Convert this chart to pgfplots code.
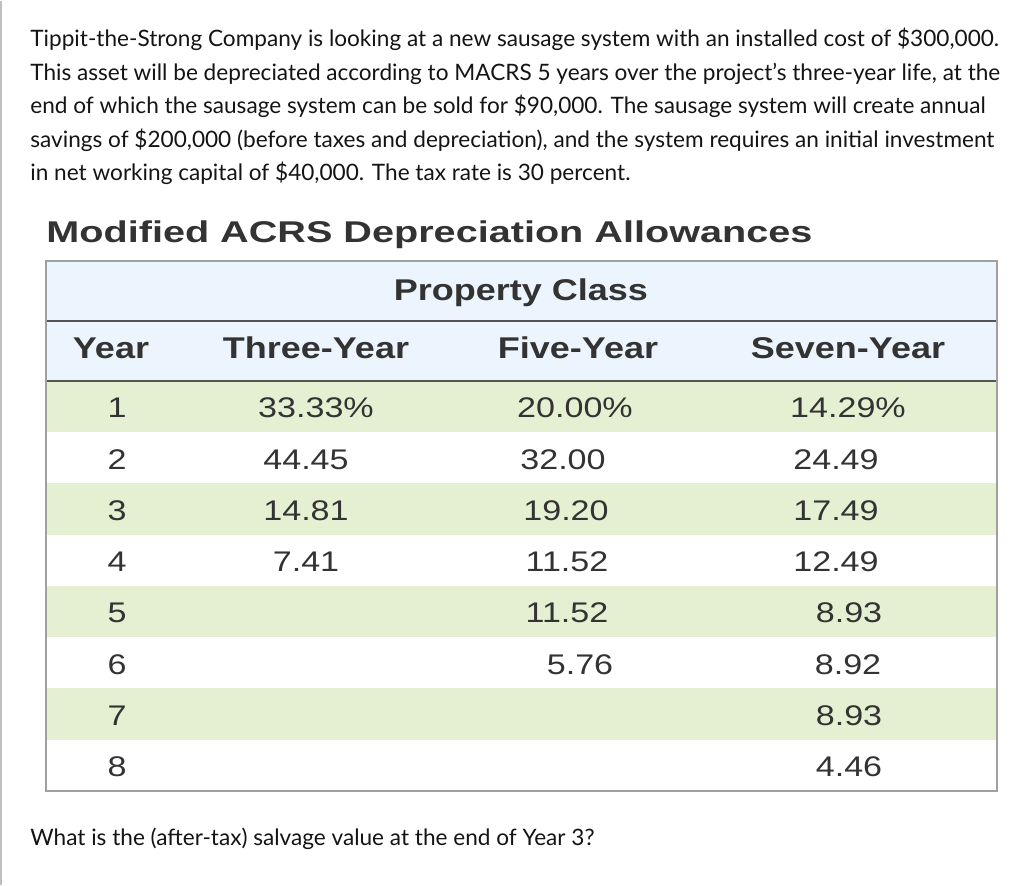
\documentclass[border=0pt]{standalone}
\usepackage{pgfplots}
\pgfplotsset{compat=1.18}
\usepackage{pgfplotstable}
\usepackage{graphicx}
\usepackage{fontspec}
\setmainfont{Lato}
\newfontfamily\tabfont[FakeStretch=1.2]{Liberation Sans}
\newfontfamily\titlefont{Liberation Sans}
\definecolor{hdrbg}{RGB}{236,245,253}
\definecolor{zebra}{RGB}{229,240,211}
\definecolor{tabtxt}{RGB}{51,51,51}
\definecolor{rulec}{RGB}{85,85,85}
\definecolor{framec}{RGB}{160,160,160}
\definecolor{bodytxt}{RGB}{20,20,20}

\pgfplotstableread{
x y label
117 417 1
117 468.25 2
117 519.5 3
117 570.75 4
117 622 5
117 673.25 6
117 724.5 7
117 775.75 8
316 417 33.33\%
306 468.25 44.45
306 519.5 14.81
306 570.75 7.41
575 417 20.00\%
563 468.25 32.00
566 519.5 19.20
567 570.75 11.52
567 622 11.52
580 673.25 5.76
848 417 14.29\%
836 468.25 24.49
836 519.5 17.49
836 570.75 12.49
849 622 8.93
848 673.25 8.92
849 724.5 8.93
849 775.75 4.46
}\cells

\begin{document}
\begin{tikzpicture}
\begin{axis}[
  scale only axis, width=512pt, height=442pt,
  xmin=0, xmax=1024, ymin=0, ymax=884, y dir=reverse,
  hide axis, clip=false]
\path (axis cs:0,0) rectangle (axis cs:1024,884);
% left page edge
\draw[black!25, line width=1pt] (axis cs:1,0) -- (axis cs:1,884);
% body text
\begingroup
\def\bl#1#2{\node[anchor=base west, inner sep=0pt, text=bodytxt, font=\fontsize{11.3}{13}\selectfont] at (axis cs:30,#1) {#2};}
\bl{46}{Tippit-the-Strong Company is looking at a new sausage system with an installed cost of \$300,000.}
\bl{79.5}{This asset will be depreciated according to MACRS 5 years over the project’s three-year life, at the}
\bl{113}{end of which the sausage system can be sold for \$90,000. The sausage system will create annual}
\bl{146.5}{savings of \$200,000 (before taxes and depreciation), and the system requires an initial investment}
\bl{180}{in net working capital of \$40,000. The tax rate is 30 percent.}
\bl{845}{What is the (after-tax) salvage value at the end of Year 3?}
\endgroup
% title
\node[anchor=base west, inner sep=0pt, text=tabtxt] at (axis cs:46,242)
  {\resizebox{383pt}{\height}{\titlefont\bfseries\fontsize{15}{18}\selectfont Modified ACRS Depreciation Allowances}};
% table backgrounds
\fill[hdrbg] (axis cs:46,260) rectangle (axis cs:997,380);
\fill[zebra] (axis cs:46,380) rectangle (axis cs:997,431.25);
\fill[zebra] (axis cs:46,482.5) rectangle (axis cs:997,533.75);
\fill[zebra] (axis cs:46,585) rectangle (axis cs:997,636.25);
\fill[zebra] (axis cs:46,687.5) rectangle (axis cs:997,738.75);
\draw[rulec, line width=1pt] (axis cs:46,320) -- (axis cs:997,320);
\draw[rulec, line width=1pt] (axis cs:46,380) -- (axis cs:997,380);
\draw[framec, line width=1pt] (axis cs:46,260) rectangle (axis cs:997,790);
% headers
\begingroup
\def\hd#1#2#3{\node[anchor=base, inner sep=0pt, text=tabtxt, font=\tabfont\bfseries\fontsize{15}{18}\selectfont] at (axis cs:#1,#2) {#3};}
\hd{521}{300}{Property Class}
\hd{111}{358}{Year}
\hd{316}{358}{Three-Year}
\hd{578}{358}{Five-Year}
\hd{848}{358}{Seven-Year}
\endgroup
% data cells
\addplot[draw=none, mark=none, nodes near coords, point meta=explicit symbolic,
  every node near coord/.append style={anchor=base, inner sep=0pt, text=tabtxt,
    font=\tabfont\fontsize{14.2}{16}\selectfont}]
  table[x=x, y=y, meta=label] {\cells};
\end{axis}
\end{tikzpicture}
\end{document}
